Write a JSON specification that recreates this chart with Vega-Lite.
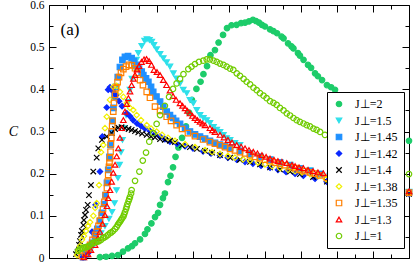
{
"$schema": "https://vega.github.io/schema/vega-lite/v6.json",
"width": 360, "height": 253,
"autosize": {"type": "none"},
"padding": {"left": 49, "top": 5, "right": 6, "bottom": 8},
"background": "white",
"config": {"view": {"stroke": "black", "strokeWidth": 1}, "font": "Liberation Serif"},
"resolve": {"axis": {"x": "independent", "y": "independent"}},
"layer": [
{
"data": {"values": [
{"s":"2","x":0.283,"y":0.002},{"s":"2","x":0.317,"y":0.003},{"s":"2","x":0.35,"y":0.005},{"s":"2","x":0.383,"y":0.007},{"s":"2","x":0.411,"y":0.015},{"s":"2","x":0.439,"y":0.023},{"s":"2","x":0.461,"y":0.028},{"s":"2","x":0.478,"y":0.035},{"s":"2","x":0.506,"y":0.044},{"s":"2","x":0.533,"y":0.057},{"s":"2","x":0.547,"y":0.068},{"s":"2","x":0.569,"y":0.082},{"s":"2","x":0.589,"y":0.097},{"s":"2","x":0.606,"y":0.107},{"s":"2","x":0.617,"y":0.126},{"s":"2","x":0.633,"y":0.142},{"s":"2","x":0.644,"y":0.153},{"s":"2","x":0.661,"y":0.18},{"s":"2","x":0.675,"y":0.195},{"s":"2","x":0.689,"y":0.215},{"s":"2","x":0.703,"y":0.24},{"s":"2","x":0.719,"y":0.262},{"s":"2","x":0.739,"y":0.285},{"s":"2","x":0.761,"y":0.312},{"s":"2","x":0.778,"y":0.345},{"s":"2","x":0.794,"y":0.375},{"s":"2","x":0.819,"y":0.401},{"s":"2","x":0.842,"y":0.418},{"s":"2","x":0.858,"y":0.436},{"s":"2","x":0.878,"y":0.455},{"s":"2","x":0.897,"y":0.481},{"s":"2","x":0.922,"y":0.493},{"s":"2","x":0.942,"y":0.511},{"s":"2","x":0.967,"y":0.529},{"s":"2","x":0.989,"y":0.545},{"s":"2","x":1.014,"y":0.552},{"s":"2","x":1.042,"y":0.553},{"s":"2","x":1.067,"y":0.557},{"s":"2","x":1.089,"y":0.558},{"s":"2","x":1.111,"y":0.561},{"s":"2","x":1.133,"y":0.565},{"s":"2","x":1.15,"y":0.562},{"s":"2","x":1.167,"y":0.558},{"s":"2","x":1.183,"y":0.553},{"s":"2","x":1.2,"y":0.549},{"s":"2","x":1.228,"y":0.542},{"s":"2","x":1.247,"y":0.538},{"s":"2","x":1.267,"y":0.533},{"s":"2","x":1.292,"y":0.525},{"s":"2","x":1.303,"y":0.521},{"s":"2","x":1.328,"y":0.509},{"s":"2","x":1.347,"y":0.502},{"s":"2","x":1.358,"y":0.497},{"s":"2","x":1.383,"y":0.486},{"s":"2","x":1.394,"y":0.48},{"s":"2","x":1.414,"y":0.47},{"s":"2","x":1.439,"y":0.458},{"s":"2","x":1.456,"y":0.451},{"s":"2","x":1.478,"y":0.438},{"s":"2","x":1.494,"y":0.431},{"s":"2","x":1.517,"y":0.422},{"s":"2","x":1.544,"y":0.41},{"s":"2","x":1.567,"y":0.405},{"s":"2","x":1.589,"y":0.399},{"s":"2","x":1.644,"y":0.382},{"s":"2","x":1.7,"y":0.363},{"s":"2","x":1.756,"y":0.344},{"s":"2","x":1.811,"y":0.327},{"s":"2","x":1.867,"y":0.311},{"s":"2","x":1.922,"y":0.297},{"s":"2","x":2.0,"y":0.278},

{"s":"1.5","x":0.194,"y":0.002},{"s":"1.5","x":0.217,"y":0.009},{"s":"1.5","x":0.244,"y":0.028},{"s":"1.5","x":0.267,"y":0.043},{"s":"1.5","x":0.289,"y":0.059},{"s":"1.5","x":0.311,"y":0.076},{"s":"1.5","x":0.333,"y":0.093},{"s":"1.5","x":0.35,"y":0.109},{"s":"1.5","x":0.364,"y":0.13},{"s":"1.5","x":0.375,"y":0.161},{"s":"1.5","x":0.383,"y":0.19},{"s":"1.5","x":0.392,"y":0.221},{"s":"1.5","x":0.4,"y":0.251},{"s":"1.5","x":0.408,"y":0.28},{"s":"1.5","x":0.417,"y":0.308},{"s":"1.5","x":0.428,"y":0.339},{"s":"1.5","x":0.439,"y":0.37},{"s":"1.5","x":0.45,"y":0.399},{"s":"1.5","x":0.461,"y":0.425},{"s":"1.5","x":0.475,"y":0.451},{"s":"1.5","x":0.486,"y":0.47},{"s":"1.5","x":0.496,"y":0.486},{"s":"1.5","x":0.515,"y":0.503},{"s":"1.5","x":0.531,"y":0.515},{"s":"1.5","x":0.544,"y":0.519},{"s":"1.5","x":0.558,"y":0.517},{"s":"1.5","x":0.571,"y":0.513},{"s":"1.5","x":0.583,"y":0.505},{"s":"1.5","x":0.598,"y":0.495},{"s":"1.5","x":0.617,"y":0.484},{"s":"1.5","x":0.635,"y":0.474},{"s":"1.5","x":0.653,"y":0.464},{"s":"1.5","x":0.672,"y":0.454},{"s":"1.5","x":0.691,"y":0.438},{"s":"1.5","x":0.708,"y":0.426},{"s":"1.5","x":0.728,"y":0.414},{"s":"1.5","x":0.746,"y":0.399},{"s":"1.5","x":0.765,"y":0.391},{"s":"1.5","x":0.783,"y":0.375},{"s":"1.5","x":0.802,"y":0.367},{"s":"1.5","x":0.821,"y":0.351},{"s":"1.5","x":0.839,"y":0.339},{"s":"1.5","x":0.858,"y":0.332},{"s":"1.5","x":0.876,"y":0.327},{"s":"1.5","x":0.894,"y":0.32},{"s":"1.5","x":0.914,"y":0.311},{"s":"1.5","x":0.932,"y":0.304},{"s":"1.5","x":0.95,"y":0.299},{"s":"1.5","x":0.969,"y":0.292},{"s":"1.5","x":0.987,"y":0.284},{"s":"1.5","x":1.006,"y":0.28},{"s":"1.5","x":1.033,"y":0.273},{"s":"1.5","x":1.061,"y":0.268},{"s":"1.5","x":1.117,"y":0.249},{"s":"1.5","x":1.172,"y":0.241},{"s":"1.5","x":1.228,"y":0.234},{"s":"1.5","x":1.283,"y":0.227},{"s":"1.5","x":1.339,"y":0.221},{"s":"1.5","x":1.394,"y":0.213},{"s":"1.5","x":1.45,"y":0.208},{"s":"1.5","x":1.506,"y":0.2},{"s":"1.5","x":1.561,"y":0.195},{"s":"1.5","x":1.617,"y":0.187},{"s":"1.5","x":1.672,"y":0.183},{"s":"1.5","x":1.728,"y":0.177},{"s":"1.5","x":1.783,"y":0.172},{"s":"1.5","x":1.839,"y":0.167},{"s":"1.5","x":1.894,"y":0.162},{"s":"1.5","x":1.95,"y":0.159},{"s":"1.5","x":2.0,"y":0.157},

{"s":"1.45","x":0.189,"y":0.002},{"s":"1.45","x":0.206,"y":0.009},{"s":"1.45","x":0.222,"y":0.021},{"s":"1.45","x":0.239,"y":0.036},{"s":"1.45","x":0.256,"y":0.052},{"s":"1.45","x":0.269,"y":0.069},{"s":"1.45","x":0.283,"y":0.088},{"s":"1.45","x":0.294,"y":0.107},{"s":"1.45","x":0.306,"y":0.128},{"s":"1.45","x":0.314,"y":0.149},{"s":"1.45","x":0.322,"y":0.178},{"s":"1.45","x":0.329,"y":0.209},{"s":"1.45","x":0.336,"y":0.24},{"s":"1.45","x":0.342,"y":0.268},{"s":"1.45","x":0.347,"y":0.297},{"s":"1.45","x":0.353,"y":0.325},{"s":"1.45","x":0.358,"y":0.356},{"s":"1.45","x":0.364,"y":0.382},{"s":"1.45","x":0.372,"y":0.406},{"s":"1.45","x":0.382,"y":0.429},{"s":"1.45","x":0.394,"y":0.453},{"s":"1.45","x":0.408,"y":0.47},{"s":"1.45","x":0.422,"y":0.477},{"s":"1.45","x":0.439,"y":0.479},{"s":"1.45","x":0.459,"y":0.474},{"s":"1.45","x":0.472,"y":0.467},{"s":"1.45","x":0.487,"y":0.458},{"s":"1.45","x":0.5,"y":0.449},{"s":"1.45","x":0.515,"y":0.442},{"s":"1.45","x":0.524,"y":0.434},{"s":"1.45","x":0.539,"y":0.426},{"s":"1.45","x":0.552,"y":0.418},{"s":"1.45","x":0.567,"y":0.406},{"s":"1.45","x":0.579,"y":0.394},{"s":"1.45","x":0.597,"y":0.383},{"s":"1.45","x":0.617,"y":0.371},{"s":"1.45","x":0.635,"y":0.359},{"s":"1.45","x":0.654,"y":0.347},{"s":"1.45","x":0.672,"y":0.339},{"s":"1.45","x":0.689,"y":0.332},{"s":"1.45","x":0.706,"y":0.325},{"s":"1.45","x":0.728,"y":0.318},{"s":"1.45","x":0.756,"y":0.308},{"s":"1.45","x":0.783,"y":0.3},{"s":"1.45","x":0.811,"y":0.293},{"s":"1.45","x":0.839,"y":0.288},{"s":"1.45","x":0.867,"y":0.283},{"s":"1.45","x":0.894,"y":0.278},{"s":"1.45","x":0.922,"y":0.273},{"s":"1.45","x":0.95,"y":0.269},{"s":"1.45","x":0.978,"y":0.265},{"s":"1.45","x":1.006,"y":0.261},{"s":"1.45","x":1.061,"y":0.254},{"s":"1.45","x":1.117,"y":0.247},{"s":"1.45","x":1.172,"y":0.24},{"s":"1.45","x":1.228,"y":0.233},{"s":"1.45","x":1.283,"y":0.226},{"s":"1.45","x":1.339,"y":0.219},{"s":"1.45","x":1.394,"y":0.212},{"s":"1.45","x":1.45,"y":0.206},{"s":"1.45","x":1.506,"y":0.199},{"s":"1.45","x":1.561,"y":0.193},{"s":"1.45","x":1.617,"y":0.187},{"s":"1.45","x":1.672,"y":0.181},{"s":"1.45","x":1.728,"y":0.176},{"s":"1.45","x":1.783,"y":0.171},{"s":"1.45","x":1.839,"y":0.166},{"s":"1.45","x":1.894,"y":0.162},{"s":"1.45","x":1.95,"y":0.158},{"s":"1.45","x":2.0,"y":0.156},

{"s":"1.42","x":0.189,"y":0.002},{"s":"1.42","x":0.206,"y":0.007},{"s":"1.42","x":0.217,"y":0.012},{"s":"1.42","x":0.239,"y":0.062},{"s":"1.42","x":0.259,"y":0.126},{"s":"1.42","x":0.283,"y":0.205},{"s":"1.42","x":0.296,"y":0.288},{"s":"1.42","x":0.321,"y":0.357},{"s":"1.42","x":0.329,"y":0.399},{"s":"1.42","x":0.339,"y":0.405},{"s":"1.42","x":0.356,"y":0.395},{"s":"1.42","x":0.372,"y":0.386},{"s":"1.42","x":0.389,"y":0.372},{"s":"1.42","x":0.406,"y":0.36},{"s":"1.42","x":0.432,"y":0.343},{"s":"1.42","x":0.45,"y":0.336},{"s":"1.42","x":0.467,"y":0.327},{"s":"1.42","x":0.489,"y":0.319},{"s":"1.42","x":0.511,"y":0.313},{"s":"1.42","x":0.533,"y":0.307},{"s":"1.42","x":0.561,"y":0.301},{"s":"1.42","x":0.589,"y":0.294},{"s":"1.42","x":0.617,"y":0.288},{"s":"1.42","x":0.644,"y":0.282},{"s":"1.42","x":0.672,"y":0.276},{"s":"1.42","x":0.711,"y":0.271},{"s":"1.42","x":0.756,"y":0.265},{"s":"1.42","x":0.8,"y":0.26},{"s":"1.42","x":0.856,"y":0.253},{"s":"1.42","x":0.9,"y":0.248},{"s":"1.42","x":0.95,"y":0.243},{"s":"1.42","x":0.994,"y":0.238},{"s":"1.42","x":1.043,"y":0.233},{"s":"1.42","x":1.089,"y":0.228},{"s":"1.42","x":1.133,"y":0.224},{"s":"1.42","x":1.178,"y":0.219},{"s":"1.42","x":1.228,"y":0.214},{"s":"1.42","x":1.272,"y":0.209},{"s":"1.42","x":1.317,"y":0.204},{"s":"1.42","x":1.367,"y":0.2},{"s":"1.42","x":1.413,"y":0.195},{"s":"1.42","x":1.478,"y":0.188},{"s":"1.42","x":1.543,"y":0.181},{"s":"1.42","x":1.617,"y":0.175},{"s":"1.42","x":1.728,"y":0.167},{"s":"1.42","x":1.839,"y":0.16},{"s":"1.42","x":1.922,"y":0.156},{"s":"1.42","x":2.0,"y":0.152},

{"s":"1.4","x":0.15,"y":0.009},{"s":"1.4","x":0.159,"y":0.015},{"s":"1.4","x":0.167,"y":0.031},{"s":"1.4","x":0.172,"y":0.04},{"s":"1.4","x":0.178,"y":0.055},{"s":"1.4","x":0.183,"y":0.064},{"s":"1.4","x":0.191,"y":0.078},{"s":"1.4","x":0.194,"y":0.09},{"s":"1.4","x":0.2,"y":0.102},{"s":"1.4","x":0.206,"y":0.114},{"s":"1.4","x":0.215,"y":0.126},{"s":"1.4","x":0.222,"y":0.149},{"s":"1.4","x":0.233,"y":0.173},{"s":"1.4","x":0.246,"y":0.205},{"s":"1.4","x":0.265,"y":0.238},{"s":"1.4","x":0.274,"y":0.26},{"s":"1.4","x":0.294,"y":0.28},{"s":"1.4","x":0.321,"y":0.288},{"s":"1.4","x":0.348,"y":0.296},{"s":"1.4","x":0.367,"y":0.306},{"s":"1.4","x":0.385,"y":0.309},{"s":"1.4","x":0.403,"y":0.31},{"s":"1.4","x":0.422,"y":0.308},{"s":"1.4","x":0.442,"y":0.306},{"s":"1.4","x":0.459,"y":0.304},{"s":"1.4","x":0.478,"y":0.301},{"s":"1.4","x":0.496,"y":0.298},{"s":"1.4","x":0.517,"y":0.295},{"s":"1.4","x":0.543,"y":0.292},{"s":"1.4","x":0.567,"y":0.288},{"s":"1.4","x":0.589,"y":0.286},{"s":"1.4","x":0.617,"y":0.282},{"s":"1.4","x":0.644,"y":0.28},{"s":"1.4","x":0.672,"y":0.278},{"s":"1.4","x":0.7,"y":0.275},{"s":"1.4","x":0.739,"y":0.267},{"s":"1.4","x":0.783,"y":0.263},{"s":"1.4","x":0.822,"y":0.259},{"s":"1.4","x":0.867,"y":0.254},{"s":"1.4","x":0.906,"y":0.25},{"s":"1.4","x":0.95,"y":0.244},{"s":"1.4","x":1.006,"y":0.238},{"s":"1.4","x":1.061,"y":0.233},{"s":"1.4","x":1.117,"y":0.228},{"s":"1.4","x":1.172,"y":0.222},{"s":"1.4","x":1.228,"y":0.215},{"s":"1.4","x":1.283,"y":0.21},{"s":"1.4","x":1.339,"y":0.205},{"s":"1.4","x":1.394,"y":0.199},{"s":"1.4","x":1.467,"y":0.192},{"s":"1.4","x":1.544,"y":0.181},{"s":"1.4","x":1.672,"y":0.172},{"s":"1.4","x":1.839,"y":0.161},{"s":"1.4","x":2.0,"y":0.152},

{"s":"1.38","x":0.156,"y":0.007},{"s":"1.38","x":0.164,"y":0.017},{"s":"1.38","x":0.172,"y":0.028},{"s":"1.38","x":0.183,"y":0.043},{"s":"1.38","x":0.194,"y":0.052},{"s":"1.38","x":0.206,"y":0.064},{"s":"1.38","x":0.217,"y":0.076},{"s":"1.38","x":0.228,"y":0.085},{"s":"1.38","x":0.246,"y":0.1},{"s":"1.38","x":0.256,"y":0.119},{"s":"1.38","x":0.265,"y":0.13},{"s":"1.38","x":0.278,"y":0.173},{"s":"1.38","x":0.289,"y":0.251},{"s":"1.38","x":0.302,"y":0.268},{"s":"1.38","x":0.311,"y":0.308},{"s":"1.38","x":0.321,"y":0.335},{"s":"1.38","x":0.339,"y":0.375},{"s":"1.38","x":0.357,"y":0.406},{"s":"1.38","x":0.376,"y":0.408},{"s":"1.38","x":0.394,"y":0.394},{"s":"1.38","x":0.413,"y":0.382},{"s":"1.38","x":0.432,"y":0.367},{"s":"1.38","x":0.45,"y":0.356},{"s":"1.38","x":0.468,"y":0.351},{"s":"1.38","x":0.487,"y":0.339},{"s":"1.38","x":0.511,"y":0.327},{"s":"1.38","x":0.543,"y":0.315},{"s":"1.38","x":0.567,"y":0.307},{"s":"1.38","x":0.598,"y":0.3},{"s":"1.38","x":0.628,"y":0.292},{"s":"1.38","x":0.661,"y":0.285},{"s":"1.38","x":0.7,"y":0.278},{"s":"1.38","x":0.756,"y":0.27},{"s":"1.38","x":0.811,"y":0.263},{"s":"1.38","x":0.867,"y":0.256},{"s":"1.38","x":0.906,"y":0.251},{"s":"1.38","x":0.95,"y":0.247},{"s":"1.38","x":0.994,"y":0.242},{"s":"1.38","x":1.033,"y":0.238},{"s":"1.38","x":1.078,"y":0.234},{"s":"1.38","x":1.117,"y":0.23},{"s":"1.38","x":1.161,"y":0.226},{"s":"1.38","x":1.2,"y":0.222},{"s":"1.38","x":1.239,"y":0.218},{"s":"1.38","x":1.283,"y":0.213},{"s":"1.38","x":1.328,"y":0.209},{"s":"1.38","x":1.367,"y":0.206},{"s":"1.38","x":1.406,"y":0.203},{"s":"1.38","x":1.45,"y":0.199},{"s":"1.38","x":1.494,"y":0.194},{"s":"1.38","x":1.539,"y":0.187},{"s":"1.38","x":1.672,"y":0.176},{"s":"1.38","x":1.839,"y":0.164},{"s":"1.38","x":2.0,"y":0.154},

{"s":"1.35","x":0.183,"y":0.005},{"s":"1.35","x":0.2,"y":0.012},{"s":"1.35","x":0.217,"y":0.021},{"s":"1.35","x":0.228,"y":0.031},{"s":"1.35","x":0.242,"y":0.043},{"s":"1.35","x":0.256,"y":0.055},{"s":"1.35","x":0.265,"y":0.062},{"s":"1.35","x":0.275,"y":0.076},{"s":"1.35","x":0.283,"y":0.088},{"s":"1.35","x":0.293,"y":0.102},{"s":"1.35","x":0.3,"y":0.116},{"s":"1.35","x":0.308,"y":0.133},{"s":"1.35","x":0.315,"y":0.149},{"s":"1.35","x":0.322,"y":0.166},{"s":"1.35","x":0.326,"y":0.181},{"s":"1.35","x":0.329,"y":0.197},{"s":"1.35","x":0.333,"y":0.216},{"s":"1.35","x":0.336,"y":0.226},{"s":"1.35","x":0.339,"y":0.237},{"s":"1.35","x":0.342,"y":0.252},{"s":"1.35","x":0.344,"y":0.27},{"s":"1.35","x":0.346,"y":0.285},{"s":"1.35","x":0.348,"y":0.3},{"s":"1.35","x":0.351,"y":0.313},{"s":"1.35","x":0.353,"y":0.325},{"s":"1.35","x":0.357,"y":0.347},{"s":"1.35","x":0.361,"y":0.368},{"s":"1.35","x":0.367,"y":0.387},{"s":"1.35","x":0.372,"y":0.403},{"s":"1.35","x":0.381,"y":0.417},{"s":"1.35","x":0.389,"y":0.429},{"s":"1.35","x":0.4,"y":0.439},{"s":"1.35","x":0.413,"y":0.448},{"s":"1.35","x":0.428,"y":0.454},{"s":"1.35","x":0.444,"y":0.458},{"s":"1.35","x":0.461,"y":0.457},{"s":"1.35","x":0.478,"y":0.45},{"s":"1.35","x":0.492,"y":0.439},{"s":"1.35","x":0.506,"y":0.422},{"s":"1.35","x":0.522,"y":0.41},{"s":"1.35","x":0.543,"y":0.394},{"s":"1.35","x":0.561,"y":0.38},{"s":"1.35","x":0.589,"y":0.359},{"s":"1.35","x":0.617,"y":0.349},{"s":"1.35","x":0.654,"y":0.335},{"s":"1.35","x":0.678,"y":0.325},{"s":"1.35","x":0.709,"y":0.315},{"s":"1.35","x":0.739,"y":0.306},{"s":"1.35","x":0.772,"y":0.296},{"s":"1.35","x":0.811,"y":0.289},{"s":"1.35","x":0.856,"y":0.281},{"s":"1.35","x":0.894,"y":0.275},{"s":"1.35","x":0.922,"y":0.271},{"s":"1.35","x":0.95,"y":0.267},{"s":"1.35","x":0.978,"y":0.263},{"s":"1.35","x":1.006,"y":0.259},{"s":"1.35","x":1.033,"y":0.255},{"s":"1.35","x":1.061,"y":0.251},{"s":"1.35","x":1.089,"y":0.248},{"s":"1.35","x":1.117,"y":0.244},{"s":"1.35","x":1.144,"y":0.24},{"s":"1.35","x":1.172,"y":0.237},{"s":"1.35","x":1.2,"y":0.233},{"s":"1.35","x":1.228,"y":0.23},{"s":"1.35","x":1.256,"y":0.226},{"s":"1.35","x":1.283,"y":0.223},{"s":"1.35","x":1.311,"y":0.22},{"s":"1.35","x":1.339,"y":0.216},{"s":"1.35","x":1.367,"y":0.213},{"s":"1.35","x":1.394,"y":0.209},{"s":"1.35","x":1.422,"y":0.206},{"s":"1.35","x":1.45,"y":0.203},{"s":"1.35","x":1.478,"y":0.2},{"s":"1.35","x":1.506,"y":0.196},{"s":"1.35","x":1.544,"y":0.19},{"s":"1.35","x":1.617,"y":0.183},{"s":"1.35","x":1.7,"y":0.174},{"s":"1.35","x":1.783,"y":0.167},{"s":"1.35","x":1.867,"y":0.161},{"s":"1.35","x":1.922,"y":0.158},{"s":"1.35","x":2.0,"y":0.155},

{"s":"1.3","x":0.194,"y":0.002},{"s":"1.3","x":0.217,"y":0.009},{"s":"1.3","x":0.233,"y":0.019},{"s":"1.3","x":0.256,"y":0.031},{"s":"1.3","x":0.272,"y":0.047},{"s":"1.3","x":0.283,"y":0.062},{"s":"1.3","x":0.297,"y":0.081},{"s":"1.3","x":0.311,"y":0.102},{"s":"1.3","x":0.322,"y":0.123},{"s":"1.3","x":0.329,"y":0.142},{"s":"1.3","x":0.339,"y":0.161},{"s":"1.3","x":0.348,"y":0.181},{"s":"1.3","x":0.357,"y":0.202},{"s":"1.3","x":0.367,"y":0.221},{"s":"1.3","x":0.376,"y":0.241},{"s":"1.3","x":0.385,"y":0.26},{"s":"1.3","x":0.394,"y":0.285},{"s":"1.3","x":0.404,"y":0.308},{"s":"1.3","x":0.413,"y":0.327},{"s":"1.3","x":0.422,"y":0.347},{"s":"1.3","x":0.432,"y":0.365},{"s":"1.3","x":0.441,"y":0.379},{"s":"1.3","x":0.45,"y":0.395},{"s":"1.3","x":0.459,"y":0.41},{"s":"1.3","x":0.469,"y":0.425},{"s":"1.3","x":0.478,"y":0.434},{"s":"1.3","x":0.489,"y":0.447},{"s":"1.3","x":0.5,"y":0.455},{"s":"1.3","x":0.514,"y":0.465},{"s":"1.3","x":0.528,"y":0.471},{"s":"1.3","x":0.542,"y":0.472},{"s":"1.3","x":0.556,"y":0.467},{"s":"1.3","x":0.569,"y":0.458},{"s":"1.3","x":0.583,"y":0.446},{"s":"1.3","x":0.6,"y":0.441},{"s":"1.3","x":0.617,"y":0.434},{"s":"1.3","x":0.635,"y":0.422},{"s":"1.3","x":0.653,"y":0.41},{"s":"1.3","x":0.672,"y":0.397},{"s":"1.3","x":0.689,"y":0.384},{"s":"1.3","x":0.706,"y":0.375},{"s":"1.3","x":0.728,"y":0.367},{"s":"1.3","x":0.742,"y":0.361},{"s":"1.3","x":0.756,"y":0.355},{"s":"1.3","x":0.769,"y":0.349},{"s":"1.3","x":0.783,"y":0.343},{"s":"1.3","x":0.797,"y":0.337},{"s":"1.3","x":0.811,"y":0.332},{"s":"1.3","x":0.825,"y":0.327},{"s":"1.3","x":0.839,"y":0.323},{"s":"1.3","x":0.853,"y":0.319},{"s":"1.3","x":0.867,"y":0.315},{"s":"1.3","x":0.894,"y":0.308},{"s":"1.3","x":0.908,"y":0.303},{"s":"1.3","x":0.922,"y":0.299},{"s":"1.3","x":0.95,"y":0.292},{"s":"1.3","x":0.972,"y":0.286},{"s":"1.3","x":0.994,"y":0.28},{"s":"1.3","x":1.017,"y":0.274},{"s":"1.3","x":1.043,"y":0.268},{"s":"1.3","x":1.067,"y":0.264},{"s":"1.3","x":1.089,"y":0.26},{"s":"1.3","x":1.111,"y":0.256},{"s":"1.3","x":1.135,"y":0.252},{"s":"1.3","x":1.158,"y":0.248},{"s":"1.3","x":1.183,"y":0.244},{"s":"1.3","x":1.206,"y":0.24},{"s":"1.3","x":1.228,"y":0.236},{"s":"1.3","x":1.25,"y":0.233},{"s":"1.3","x":1.272,"y":0.23},{"s":"1.3","x":1.294,"y":0.228},{"s":"1.3","x":1.321,"y":0.225},{"s":"1.3","x":1.35,"y":0.221},{"s":"1.3","x":1.367,"y":0.218},{"s":"1.3","x":1.389,"y":0.215},{"s":"1.3","x":1.413,"y":0.213},{"s":"1.3","x":1.439,"y":0.209},{"s":"1.3","x":1.467,"y":0.206},{"s":"1.3","x":1.494,"y":0.203},{"s":"1.3","x":1.524,"y":0.201},{"s":"1.3","x":1.589,"y":0.192},{"s":"1.3","x":1.672,"y":0.183},{"s":"1.3","x":1.756,"y":0.174},{"s":"1.3","x":1.839,"y":0.167},{"s":"1.3","x":1.922,"y":0.161},{"s":"1.3","x":2.0,"y":0.158},

{"s":"1","x":0.161,"y":0.017},{"s":"1","x":0.172,"y":0.021},{"s":"1","x":0.181,"y":0.022},{"s":"1","x":0.189,"y":0.024},{"s":"1","x":0.197,"y":0.025},{"s":"1","x":0.206,"y":0.026},{"s":"1","x":0.214,"y":0.027},{"s":"1","x":0.222,"y":0.028},{"s":"1","x":0.233,"y":0.032},{"s":"1","x":0.244,"y":0.036},{"s":"1","x":0.253,"y":0.037},{"s":"1","x":0.261,"y":0.038},{"s":"1","x":0.269,"y":0.039},{"s":"1","x":0.278,"y":0.04},{"s":"1","x":0.289,"y":0.043},{"s":"1","x":0.3,"y":0.047},{"s":"1","x":0.308,"y":0.049},{"s":"1","x":0.317,"y":0.051},{"s":"1","x":0.328,"y":0.055},{"s":"1","x":0.339,"y":0.059},{"s":"1","x":0.347,"y":0.061},{"s":"1","x":0.356,"y":0.064},{"s":"1","x":0.367,"y":0.069},{"s":"1","x":0.376,"y":0.074},{"s":"1","x":0.383,"y":0.079},{"s":"1","x":0.389,"y":0.083},{"s":"1","x":0.394,"y":0.086},{"s":"1","x":0.4,"y":0.09},{"s":"1","x":0.406,"y":0.094},{"s":"1","x":0.413,"y":0.098},{"s":"1","x":0.417,"y":0.103},{"s":"1","x":0.422,"y":0.109},{"s":"1","x":0.428,"y":0.116},{"s":"1","x":0.432,"y":0.122},{"s":"1","x":0.436,"y":0.128},{"s":"1","x":0.442,"y":0.135},{"s":"1","x":0.446,"y":0.14},{"s":"1","x":0.45,"y":0.145},{"s":"1","x":0.456,"y":0.153},{"s":"1","x":0.459,"y":0.161},{"s":"1","x":0.478,"y":0.183},{"s":"1","x":0.502,"y":0.205},{"s":"1","x":0.521,"y":0.231},{"s":"1","x":0.539,"y":0.25},{"s":"1","x":0.557,"y":0.276},{"s":"1","x":0.579,"y":0.296},{"s":"1","x":0.598,"y":0.318},{"s":"1","x":0.617,"y":0.339},{"s":"1","x":0.644,"y":0.361},{"s":"1","x":0.667,"y":0.382},{"s":"1","x":0.689,"y":0.401},{"s":"1","x":0.709,"y":0.414},{"s":"1","x":0.728,"y":0.425},{"s":"1","x":0.747,"y":0.436},{"s":"1","x":0.774,"y":0.448},{"s":"1","x":0.792,"y":0.454},{"s":"1","x":0.811,"y":0.46},{"s":"1","x":0.833,"y":0.465},{"s":"1","x":0.857,"y":0.468},{"s":"1","x":0.876,"y":0.471},{"s":"1","x":0.894,"y":0.471},{"s":"1","x":0.914,"y":0.468},{"s":"1","x":0.932,"y":0.465},{"s":"1","x":0.95,"y":0.461},{"s":"1","x":0.969,"y":0.458},{"s":"1","x":0.987,"y":0.454},{"s":"1","x":1.006,"y":0.449},{"s":"1","x":1.024,"y":0.446},{"s":"1","x":1.043,"y":0.438},{"s":"1","x":1.061,"y":0.432},{"s":"1","x":1.081,"y":0.425},{"s":"1","x":1.098,"y":0.418},{"s":"1","x":1.117,"y":0.412},{"s":"1","x":1.136,"y":0.404},{"s":"1","x":1.154,"y":0.398},{"s":"1","x":1.172,"y":0.391},{"s":"1","x":1.192,"y":0.385},{"s":"1","x":1.209,"y":0.379},{"s":"1","x":1.228,"y":0.372},{"s":"1","x":1.247,"y":0.368},{"s":"1","x":1.265,"y":0.363},{"s":"1","x":1.283,"y":0.356},{"s":"1","x":1.303,"y":0.35},{"s":"1","x":1.321,"y":0.343},{"s":"1","x":1.339,"y":0.338},{"s":"1","x":1.358,"y":0.332},{"s":"1","x":1.376,"y":0.327},{"s":"1","x":1.394,"y":0.323},{"s":"1","x":1.414,"y":0.319},{"s":"1","x":1.432,"y":0.315},{"s":"1","x":1.45,"y":0.312},{"s":"1","x":1.469,"y":0.307},{"s":"1","x":1.487,"y":0.304},{"s":"1","x":1.506,"y":0.299},{"s":"1","x":1.533,"y":0.292},{"s":"1","x":1.589,"y":0.28},{"s":"1","x":1.644,"y":0.266},{"s":"1","x":1.7,"y":0.251},{"s":"1","x":1.756,"y":0.237},{"s":"1","x":1.811,"y":0.225},{"s":"1","x":1.867,"y":0.216},{"s":"1","x":1.922,"y":0.209},{"s":"1","x":2.0,"y":0.199}
]},
"mark": {"type": "point", "size": 30, "strokeWidth": 1.2, "opacity": 1},
"encoding": {
"x": {"field": "x", "type": "quantitative", "scale": {"domain": [0, 2], "nice": false, "zero": false},
 "axis": {"orient": "bottom", "values": [0,0.1,0.2,0.3,0.4,0.5,0.6,0.7,0.8,0.9,1,1.1,1.2,1.3,1.4,1.5,1.6,1.7,1.8,1.9,2], "labels": false, "domain": false, "grid": false, "title": null, "tickColor": "black", "tickWidth": 1,
 "tickSize": {"condition": {"test": "round(datum.value*10)%2==0", "value": -7}, "value": -4}}},
"y": {"field": "y", "type": "quantitative", "scale": {"domain": [0, 0.6], "nice": false},
 "axis": {"orient": "left", "values": [0,0.05,0.1,0.15,0.2,0.25,0.3,0.35,0.4,0.45,0.5,0.55,0.6], "labelExpr": "round(datum.value*20)%2==1 ? '' : format(datum.value, '.1~f')", "domain": false, "grid": false, "tickColor": "black", "tickWidth": 1,
 "tickSize": {"condition": {"test": "round(datum.value*20)%2==0", "value": -7}, "value": -4},
 "labelPadding": 12, "labelFont": "Liberation Serif", "labelFontSize": 11.5, "labelColor": "black", "labelFlush": false, "labelOverlap": false, "labelBound": false,
 "title": "C", "titleFont": "Liberation Serif", "titleFontStyle": "italic", "titleFontWeight": "normal", "titleFontSize": 14, "titleColor": "black", "titleAngle": 0, "titleBaseline": "middle", "titleAlign": "right", "titlePadding": 12}},
"shape": {"field": "s", "type": "nominal",
 "scale": {"domain": ["2","1.5","1.45","1.42","1.4","1.38","1.35","1.3","1"], "range": ["circle","triangle-down","square","diamond","M-1,-1L1,1M-1,1L1,-1","diamond","square","triangle-up","circle"]},
 "legend": {"orient": "none", "legendX": 278, "legendY": 87, "title": null, "strokeColor": "black", "fillColor": "white", "padding": 6, "cornerRadius": 0, "labelFont": "Liberation Serif", "labelFontSize": 12, "labelColor": "black", "symbolSize": 30, "symbolStrokeWidth": 1.2, "rowPadding": 4.5, "labelOffset": 10, "labelExpr": "'J⊥=' + datum.label"}},
"fill": {"field": "s", "type": "nominal",
 "scale": {"domain": ["2","1.5","1.45","1.42","1.4","1.38","1.35","1.3","1"], "range": ["#1dcc6a","#2ee0ea","#1e90ff","#0a28ff","transparent","transparent","transparent","transparent","transparent"]},
 "legend": {"orient": "none", "legendX": 278, "legendY": 87, "title": null, "strokeColor": "black", "fillColor": "white", "padding": 6, "cornerRadius": 0, "labelFont": "Liberation Serif", "labelFontSize": 12, "labelColor": "black", "symbolSize": 30, "symbolStrokeWidth": 1.2, "rowPadding": 4.5, "labelOffset": 10, "labelExpr": "'J⊥=' + datum.label"}},
"stroke": {"field": "s", "type": "nominal",
 "scale": {"domain": ["2","1.5","1.45","1.42","1.4","1.38","1.35","1.3","1"], "range": ["#1dcc6a","#2ee0ea","#1e90ff","#0a28ff","#000000","#f0f000","#ff7f00","#ff0000","#70cc00"]},
 "legend": {"orient": "none", "legendX": 278, "legendY": 87, "title": null, "strokeColor": "black", "fillColor": "white", "padding": 6, "cornerRadius": 0, "labelFont": "Liberation Serif", "labelFontSize": 12, "labelColor": "black", "symbolSize": 30, "symbolStrokeWidth": 1.2, "rowPadding": 4.5, "labelOffset": 10, "labelExpr": "'J⊥=' + datum.label"}}
}
},
{
"data": {"values": [{"x": 0, "y": 0}]},
"mark": {"type": "point", "opacity": 0},
"encoding": {
"x": {"field": "x", "type": "quantitative", "scale": {"domain": [0, 2], "nice": false, "zero": false},
 "axis": {"orient": "top", "values": [0,0.1,0.2,0.3,0.4,0.5,0.6,0.7,0.8,0.9,1,1.1,1.2,1.3,1.4,1.5,1.6,1.7,1.8,1.9,2], "labels": false, "domain": false, "grid": false, "title": null, "tickColor": "black", "tickWidth": 1,
 "tickSize": {"condition": {"test": "round(datum.value*10)%2==0", "value": -7}, "value": -4}}},
"y": {"field": "y", "type": "quantitative", "scale": {"domain": [0, 0.6], "nice": false},
 "axis": {"orient": "right", "values": [0,0.05,0.1,0.15,0.2,0.25,0.3,0.35,0.4,0.45,0.5,0.55,0.6], "labels": false, "domain": false, "grid": false, "title": null, "tickColor": "black", "tickWidth": 1,
 "tickSize": {"condition": {"test": "round(datum.value*20)%2==0", "value": -7}, "value": -4}}}
}
},
{
"data": {"values": [{"x": 0.117, "y": 0.541, "t": "(a)"}]},
"mark": {"type": "text", "font": "Liberation Serif", "fontSize": 17, "align": "center", "baseline": "middle", "color": "black"},
"encoding": {
"x": {"field": "x", "type": "quantitative", "axis": null},
"y": {"field": "y", "type": "quantitative", "axis": null},
"text": {"field": "t"}
}
}
]
}
